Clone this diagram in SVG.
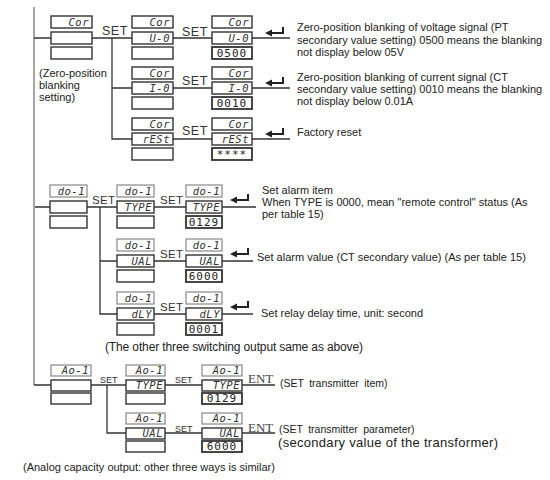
<svg xmlns="http://www.w3.org/2000/svg" xmlns:xlink="http://www.w3.org/1999/xlink" width="550" height="480" viewBox="0 0 550 480">
<style>
.ln{stroke:#333;stroke-width:1.3;fill:none}
.main{stroke:#888;stroke-width:1.5;fill:none}
.bx{fill:#fff;stroke:#333;stroke-width:1.4}
.bxl{fill:#fff;stroke:#888;stroke-width:1.2}
.vbx{fill:#fff;stroke:#333;stroke-width:1.8}
.seg{font-family:"DejaVu Sans Mono",monospace;font-style:italic;font-size:10.5px;fill:#333;text-anchor:end;letter-spacing:0.5px}
.val{font-family:"DejaVu Sans Mono",monospace;font-size:11px;fill:#222;text-anchor:middle;letter-spacing:1px}
.set{font-family:"Liberation Sans",Arial,sans-serif;font-size:12.5px;fill:#333;letter-spacing:0.5px}
.set2{font-family:"Liberation Sans",Arial,sans-serif;font-size:11.5px;fill:#333;letter-spacing:0.3px}
.set3{font-family:"Liberation Sans",Arial,sans-serif;font-size:9px;fill:#333}
.txt{font-family:"Liberation Sans",Arial,sans-serif;font-size:11px;fill:#222}
.ent{font-family:"Liberation Serif","Times New Roman",serif;font-size:13px;fill:#444}
</style>
<defs>
<g id="enter"><path d="M18,-6 V0 H5" stroke="#222" stroke-width="2" fill="none"/><polygon points="0,0 7,-3.5 7,3.5" fill="#222"/></g>
</defs>

<g id="connectors">
<path class="main" d="M34,7 V385"/>
<path class="ln" d="M34,38 H51 M92,38 H132 M112,38 V139 H132 M112,88 H132 M173,38 H212 M173,88 H212 M173,139 H212 M252,38 H290 M252,88 H290 M252,139 H290"/>
<path class="ln" d="M35,207 H50 M87,207 H117 M100,207 V314 H117 M100,261 H117 M154,207 H186 M154,261 H186 M154,314 H186 M222,207 H256 M222,261 H253 M222,314 H253"/>
<path class="ln" d="M34,385 H51 M91,385 H126 M107,385 V433 H126 M165,385 H202 M165,433 H202 M242,385 H275 M242,433 H275"/>
<text class="set" x="102" y="35">SET</text>
<text class="set" x="182" y="36">SET</text>
<text class="set" x="182" y="85">SET</text>
<text class="set" x="182" y="135">SET</text>
<text class="set2" x="92" y="204">SET</text>
<text class="set2" x="160" y="204">SET</text>
<text class="set2" x="160" y="258">SET</text>
<text class="set2" x="160" y="311">SET</text>
<text class="set3" x="100" y="383">SET</text>
<text class="set3" x="175" y="383">SET</text>
<text class="set3" x="175" y="432">SET</text>
<use xlink:href="#enter" x="265" y="33"/>
<use xlink:href="#enter" x="265" y="83"/>
<use xlink:href="#enter" x="265" y="134"/>
<use xlink:href="#enter" x="230" y="200"/>
<use xlink:href="#enter" x="230" y="254"/>
<use xlink:href="#enter" x="230" y="307"/>
<text class="ent" x="248" y="383">ENT</text>
<text class="ent" x="248" y="432">ENT</text>
</g>

<!-- Section 1 -->
<g id="cor-menu">
<rect class="bx" x="51" y="16" width="41" height="12"/><rect class="bx" x="51" y="32" width="41" height="12"/><rect class="bx" x="51" y="47" width="41" height="12"/>
<text class="seg" x="89" y="26">Cor</text>
</g>
<g id="cor-u0">
<rect class="bx" x="132" y="16" width="41" height="12"/><rect class="bx" x="132" y="32" width="41" height="12"/><rect class="bx" x="132" y="47" width="41" height="12"/>
<text class="seg" x="170" y="26">Cor</text><text class="seg" x="170" y="42">U-0</text>
</g>
<g id="cor-u0-set">
<rect class="bx" x="212" y="16" width="40" height="12"/><rect class="bx" x="212" y="32" width="40" height="12"/><rect class="vbx" x="212" y="47" width="40" height="12"/>
<text class="seg" x="249" y="26">Cor</text><text class="seg" x="249" y="42">U-0</text><text class="val" x="232" y="57">0500</text>
</g>
<g id="cor-i0">
<rect class="bx" x="132" y="67" width="41" height="12"/><rect class="bx" x="132" y="82" width="41" height="12"/><rect class="bx" x="132" y="97" width="41" height="12"/>
<text class="seg" x="170" y="77">Cor</text><text class="seg" x="170" y="92">I-0</text>
</g>
<g id="cor-i0-set">
<rect class="bx" x="212" y="67" width="40" height="12"/><rect class="bx" x="212" y="82" width="40" height="12"/><rect class="vbx" x="212" y="97" width="40" height="12"/>
<text class="seg" x="249" y="77">Cor</text><text class="seg" x="249" y="92">I-0</text><text class="val" x="232" y="107">0010</text>
</g>
<g id="cor-rest">
<rect class="bx" x="132" y="118" width="41" height="12"/><rect class="bx" x="132" y="133" width="41" height="12"/><rect class="bx" x="132" y="148" width="41" height="12"/>
<text class="seg" x="170" y="128">Cor</text><text class="seg" x="170" y="143">rESt</text>
</g>
<g id="cor-rest-set">
<rect class="bx" x="212" y="118" width="40" height="12"/><rect class="bx" x="212" y="133" width="40" height="12"/><rect class="vbx" x="212" y="148" width="40" height="12"/>
<text class="seg" x="249" y="128">Cor</text><text class="seg" x="249" y="143">rESt</text><text class="val" x="232" y="158">****</text>
</g>
<g id="labels-1">
<text class="txt" x="39" y="77">(Zero-position</text>
<text class="txt" x="39" y="89">blanking</text>
<text class="txt" x="39" y="101">setting)</text>
<text class="txt" x="297" y="31">Zero-position blanking of voltage signal (PT</text>
<text class="txt" x="297" y="44">secondary value setting) 0500 means the blanking</text>
<text class="txt" x="297" y="56">not display below 05V</text>
<text class="txt" x="297" y="81">Zero-position blanking of current signal (CT</text>
<text class="txt" x="297" y="93">secondary value setting) 0010 means the blanking</text>
<text class="txt" x="297" y="105">not display below 0.01A</text>
<text class="txt" x="297" y="136">Factory reset</text>
</g>

<!-- Section 2 -->
<g id="do-menu">
<rect class="bxl" x="50" y="185" width="37" height="12"/><rect class="bx" x="50" y="201" width="37" height="12"/><rect class="bx" x="50" y="216" width="37" height="12"/>
<text class="seg" x="85" y="195">do-1</text>
</g>
<g id="do-type">
<rect class="bxl" x="117" y="185" width="37" height="12"/><rect class="bx" x="117" y="201" width="37" height="12"/><rect class="bx" x="117" y="216" width="37" height="12"/>
<text class="seg" x="152" y="195">do-1</text><text class="seg" x="152" y="211">TYPE</text>
</g>
<g id="do-type-set">
<rect class="bxl" x="186" y="185" width="36" height="12"/><rect class="bx" x="186" y="201" width="36" height="12"/><rect class="vbx" x="186" y="216" width="36" height="12"/>
<text class="seg" x="220" y="195">do-1</text><text class="seg" x="220" y="211">TYPE</text><text class="val" x="204" y="226">0129</text>
</g>
<g id="do-val">
<rect class="bxl" x="117" y="239" width="37" height="12"/><rect class="bx" x="117" y="255" width="37" height="12"/><rect class="bx" x="117" y="270" width="37" height="12"/>
<text class="seg" x="152" y="249">do-1</text><text class="seg" x="152" y="265">UAL</text>
</g>
<g id="do-val-set">
<rect class="bxl" x="186" y="239" width="36" height="12"/><rect class="bx" x="186" y="255" width="36" height="12"/><rect class="vbx" x="186" y="270" width="36" height="12"/>
<text class="seg" x="220" y="249">do-1</text><text class="seg" x="220" y="265">UAL</text><text class="val" x="204" y="280">6000</text>
</g>
<g id="do-dly">
<rect class="bxl" x="117" y="292" width="37" height="12"/><rect class="bx" x="117" y="308" width="37" height="12"/><rect class="bx" x="117" y="323" width="37" height="12"/>
<text class="seg" x="152" y="302">do-1</text><text class="seg" x="152" y="318">dLY</text>
</g>
<g id="do-dly-set">
<rect class="bxl" x="186" y="292" width="36" height="12"/><rect class="bx" x="186" y="308" width="36" height="12"/><rect class="vbx" x="186" y="323" width="36" height="12"/>
<text class="seg" x="220" y="302">do-1</text><text class="seg" x="220" y="318">dLY</text><text class="val" x="204" y="333">0001</text>
</g>
<g id="labels-2">
<text class="txt" x="262" y="194">Set alarm item</text>
<text class="txt" x="262" y="206">When TYPE is 0000, mean "remote control" status (As</text>
<text class="txt" x="262" y="218">per table 15)</text>
<text class="txt" x="257" y="261">Set alarm value (CT secondary value) (As per table 15)</text>
<text class="txt" x="261" y="317">Set relay delay time, unit: second</text>
<text class="txt" x="105" y="351" style="font-size:12px" textLength="258" lengthAdjust="spacing">(The other three switching output same as above)</text>
</g>

<!-- Section 3 -->
<g id="ao-menu">
<rect class="bxl" x="51" y="365" width="40" height="11"/><rect class="bx" x="51" y="380" width="40" height="11"/><rect class="bx" x="51" y="393" width="40" height="11"/>
<text class="seg" x="89" y="374">Ao-1</text>
</g>
<g id="ao-type">
<rect class="bxl" x="126" y="365" width="39" height="11"/><rect class="bx" x="126" y="380" width="39" height="11"/><rect class="bx" x="126" y="393" width="39" height="11"/>
<text class="seg" x="163" y="374">Ao-1</text><text class="seg" x="163" y="389">TYPE</text>
</g>
<g id="ao-type-set">
<rect class="bxl" x="202" y="365" width="40" height="11"/><rect class="bx" x="202" y="380" width="40" height="11"/><rect class="vbx" x="202" y="393" width="40" height="11"/>
<text class="seg" x="240" y="374">Ao-1</text><text class="seg" x="240" y="389">TYPE</text><text class="val" x="222" y="402">0129</text>
</g>
<g id="ao-val">
<rect class="bxl" x="126" y="413" width="39" height="11"/><rect class="bx" x="126" y="428" width="39" height="11"/><rect class="bx" x="126" y="441" width="39" height="11"/>
<text class="seg" x="163" y="422">Ao-1</text><text class="seg" x="163" y="437">UAL</text>
</g>
<g id="ao-val-set">
<rect class="bxl" x="202" y="413" width="40" height="11"/><rect class="bx" x="202" y="428" width="40" height="11"/><rect class="vbx" x="202" y="441" width="40" height="11"/>
<text class="seg" x="240" y="422">Ao-1</text><text class="seg" x="240" y="437">UAL</text><text class="val" x="222" y="450">6000</text>
</g>
<g id="labels-3">
<text class="txt" x="280" y="387" style="font-size:10.5px;word-spacing:2.5px">(SET transmitter item)</text>
<text class="txt" x="279" y="433" style="font-size:10.5px;word-spacing:2.5px">(SET transmitter parameter)</text>
<text class="txt" x="278" y="447" style="font-size:13px;letter-spacing:0.3px">(secondary value of the transformer)</text>
<text class="txt" x="23" y="471">(Analog capacity output: other three ways is similar)</text>
</g>
</svg>
